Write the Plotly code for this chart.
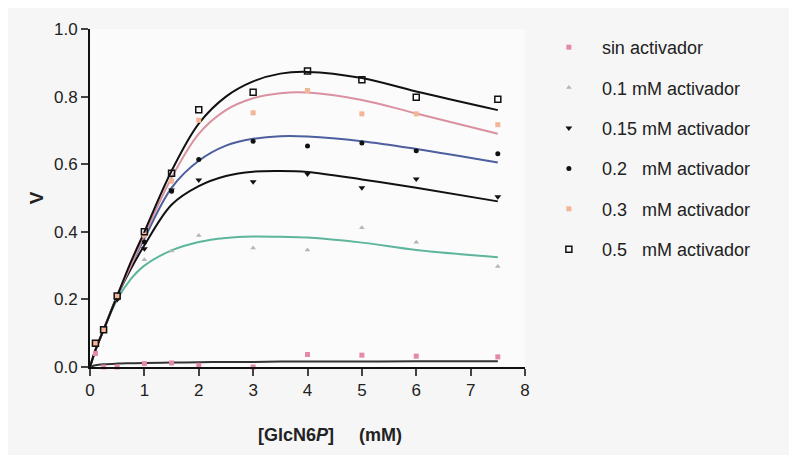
import plotly.graph_objects as go

# ---- data ----
x_pts = [0.1, 0.25, 0.5, 1, 1.5, 2, 3, 4, 5, 6, 7.5]
v_sin = [0.04, 0.0, 0.0, 0.01, 0.012, 0.005, 0.0, 0.037, 0.035, 0.032, 0.03]
v_01 = [0.07, 0.11, 0.20, 0.317, 0.343, 0.389, 0.352, 0.346, 0.412, 0.369, 0.297]
v_015 = [0.07, 0.11, 0.20, 0.35, 0.524, 0.553, 0.548, 0.571, 0.53, 0.556, 0.504]
v_02 = [0.07, 0.11, 0.205, 0.37, 0.52, 0.614, 0.668, 0.654, 0.663, 0.64, 0.631]
v_03 = [0.07, 0.11, 0.21, 0.39, 0.55, 0.73, 0.752, 0.818, 0.749, 0.749, 0.717]
v_05 = [0.07, 0.11, 0.21, 0.40, 0.573, 0.761, 0.813, 0.876, 0.850, 0.798, 0.792]

# fitted curves
x_fit = [0, 0.1, 0.25, 0.5, 0.75, 1, 1.5, 2, 2.5, 3, 3.5, 4, 5, 6, 7.5]
f_sin = [0, 0.005, 0.008, 0.01, 0.011, 0.012, 0.013, 0.014, 0.015, 0.015, 0.016, 0.016, 0.016, 0.017, 0.017]
f_01 = [0, 0.05, 0.11, 0.20, 0.26, 0.30, 0.345, 0.37, 0.382, 0.386, 0.385, 0.383, 0.368, 0.346, 0.325]
f_015 = [0, 0.05, 0.11, 0.21, 0.29, 0.36, 0.48, 0.535, 0.565, 0.578, 0.58, 0.577, 0.555, 0.53, 0.49]
f_02 = [0, 0.05, 0.11, 0.21, 0.30, 0.38, 0.53, 0.61, 0.655, 0.675, 0.683, 0.682, 0.668, 0.645, 0.605]
f_03 = [0, 0.05, 0.11, 0.21, 0.30, 0.39, 0.56, 0.69, 0.76, 0.795, 0.81, 0.812, 0.79, 0.75, 0.69]
f_05 = [0, 0.05, 0.11, 0.21, 0.31, 0.40, 0.58, 0.72, 0.80, 0.845, 0.868, 0.873, 0.855, 0.815, 0.76]

names = ["sin activador", "0.1 mM activador", "0.15 mM activador",
         "0.2\u00a0\u00a0\u00a0mM activador", "0.3\u00a0\u00a0\u00a0mM activador",
         "0.5\u00a0\u00a0\u00a0mM activador"]
y_ticks = [0.0, 0.2, 0.4, 0.6, 0.8, 1.0]
x_ticks = [0, 1, 2, 3, 4, 5, 6, 7, 8]

series = [
    (v_sin, f_sin, dict(symbol="square", size=5, color="#e58aa6"), "#333333"),
    (v_01, f_01, dict(symbol="triangle-up", size=5, color="#b5b5b5"), "#5db59c"),
    (v_015, f_015, dict(symbol="triangle-down", size=6, color="#111111"), "#111111"),
    (v_02, f_02, dict(symbol="circle", size=5, color="#111111"), "#4d5f9e"),
    (v_03, f_03, dict(symbol="square", size=5, color="#f4b596"), "#d9919f"),
    (v_05, f_05, dict(symbol="square-open", size=6, color="#111111",
                      line=dict(width=1.5, color="#111111")), "#111111"),
]

fig = go.Figure()
for i, (pts, fit, mk, lc) in enumerate(series):
    fig.add_trace(go.Scatter(x=x_fit, y=fit, mode="lines", line=dict(color=lc, width=2, shape="spline"),
                             showlegend=False, hoverinfo="skip", cliponaxis=False))
for i, (pts, fit, mk, lc) in enumerate(series):
    fig.add_trace(go.Scatter(x=x_pts, y=pts, mode="markers", marker=mk, name=names[i],
                             legendgroup=f"g{i}", cliponaxis=False))

axis_font = dict(family="Liberation Sans, Arial, sans-serif", size=17, color="#222222")
fig.update_layout(
    width=797, height=455,
    margin=dict(l=82, r=280, t=12, b=96),
    paper_bgcolor="#f6f6f6", plot_bgcolor="#fbfbfb",
    font=dict(family="Liberation Sans, Arial, sans-serif", color="#222222"),
    xaxis=dict(range=[0, 8], tickvals=x_ticks, ticks="outside", ticklen=7, tickwidth=2,
               showline=True, linewidth=2, linecolor="#111111", showgrid=False, zeroline=False,
               tickfont=axis_font),
    yaxis=dict(range=[0, 1.0], tickvals=y_ticks, tickformat=".1f", ticks="outside", ticklen=7,
               tickwidth=2, showline=True, linewidth=2, linecolor="#111111", showgrid=False,
               zeroline=False, tickfont=axis_font,
               title=dict(text="<b>V</b>", font=dict(size=19, color="#222222"), standoff=5)),
    legend=dict(x=1.025, y=1.0, xanchor="left", yanchor="top", bgcolor="rgba(0,0,0,0)",
                font=dict(size=18, color="#222222"), tracegroupgap=14, itemwidth=56),
    annotations=[dict(text="<b>[GlcN6<i>P</i>]\u00a0\u00a0\u00a0\u00a0\u00a0(mM)</b>",
                      xref="paper", yref="paper", x=0.552, y=-0.2, xanchor="center",
                      yanchor="middle", showarrow=False,
                      font=dict(size=18, color="#222222"))],
)
fig.write_html("out.html")
